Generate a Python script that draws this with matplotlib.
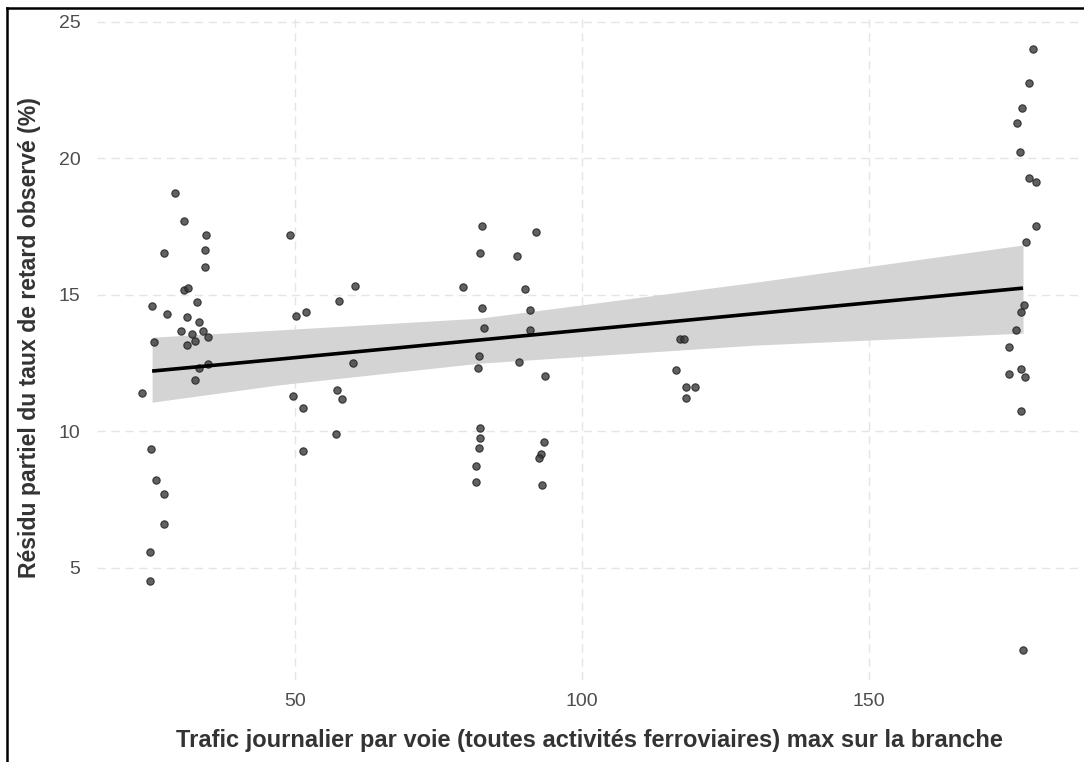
import matplotlib
matplotlib.use("Agg")
import matplotlib.pyplot as plt
from matplotlib.lines import Line2D

# ---- data ----
trafic = [29.1, 30.7, 34.5, 27.1, 34.3, 34.3, 30.7, 31.3, 32.9, 25.1, 27.7, 31.2, 33.2,
          30.1, 32.1, 34.0, 34.8, 32.6, 31.2, 25.5, 34.8, 33.2, 32.6, 23.3, 24.9, 25.8,
          27.1, 27.1, 24.7, 24.7,
          49.1, 60.4, 57.6, 51.9, 50.2, 60.1, 49.7, 57.3, 58.1, 51.3, 57.1, 51.3,
          82.6, 92.0, 82.3, 88.7, 79.3, 90.1, 82.6, 90.9, 82.9, 90.9, 82.1, 81.8, 89.0,
          93.6, 82.3, 82.3, 82.1, 93.4, 92.8, 92.5, 81.5, 81.5, 93.1,
          117.1, 117.7, 116.4, 118.1, 119.7, 118.1,
          178.5, 177.9, 176.6, 175.7, 176.3, 177.9, 179.1, 179.1, 177.4, 176.9, 176.5,
          175.5, 174.4, 174.4, 176.5, 177.1, 176.5, 176.8]
residu = [18.72, 17.70, 17.19, 16.52, 16.64, 16.02, 15.18, 15.24, 14.73, 14.57, 14.29, 14.18,
          13.99, 13.66, 13.55, 13.66, 13.44, 13.32, 13.16, 13.26, 12.45, 12.31, 11.87, 11.41,
          9.34, 8.22, 7.71, 6.58, 5.57, 4.50,
          17.19, 15.33, 14.78, 14.38, 14.22, 12.48, 11.29, 11.52, 11.18, 10.84, 9.89, 9.28,
          17.53, 17.31, 16.52, 16.41, 15.29, 15.22, 14.51, 14.44, 13.77, 13.71, 12.77, 12.31,
          12.54, 12.03, 10.13, 9.73, 9.39, 9.61, 9.17, 9.00, 8.72, 8.15, 8.04,
          13.37, 13.37, 12.25, 11.63, 11.63, 11.23,
          23.99, 22.76, 21.85, 21.29, 20.22, 19.29, 19.11, 17.53, 16.92, 14.63, 14.38,
          13.71, 13.09, 12.10, 12.27, 11.98, 10.74, 1.98]

# fitted line and confidence band, read at a few x positions
fit_x = [25.1, 47.4, 82.2, 130.0, 176.8]
fit_y = [12.20, 12.64, 13.34, 14.30, 15.24]
fit_lo = [11.06, 11.70, 12.49, 13.15, 13.59]
fit_hi = [13.44, 13.71, 14.14, 15.45, 16.82]

x_ticks = [50, 100, 150]
y_ticks = [5, 10, 15, 20, 25]
x_title = "Trafic journalier par voie (toutes activités ferroviaires) max sur la branche"
y_title = "Résidu partiel du taux de retard observé (%)"

# ---- figure ----
plt.rcParams['font.family'] = ['Liberation Sans', 'DejaVu Sans']
W, H = 1084, 762
fig = plt.figure(figsize=(W / 100, H / 100), dpi=100)
left, right, top, bottom = 97, 1081, 19.3, 680
ax = fig.add_axes([left / W, 1 - bottom / H, (right - left) / W, (bottom - top) / H])

ax.fill_between(fit_x, fit_lo, fit_hi, color="#d4d4d4", lw=0, zorder=2)
ax.scatter(trafic, residu, s=28, facecolor="#3a3a3a", edgecolor="#1a1a1a",
           linewidths=0.8, alpha=0.8, zorder=3)
ax.plot(fit_x, fit_y, color="black", lw=2.6, zorder=4, solid_capstyle="butt")

ax.set_xlim(15.5, 186.9)
ax.set_ylim(0.88, 25.09)
ax.set_xticks(x_ticks)
ax.set_yticks(y_ticks)
ax.grid(True, color="#e5e5e5", linestyle=(0, (6, 4)), lw=1.0, zorder=0)
ax.set_axisbelow(True)
for s in ax.spines.values():
    s.set_visible(False)
ax.tick_params(length=0, labelsize=14, labelcolor="#4d4d4d")
ax.tick_params(axis="x", pad=9)
ax.tick_params(axis="y", pad=12)
ax.set_xlabel(x_title, fontsize=17, fontweight="bold", color="#333333", labelpad=14)
ax.set_ylabel(y_title, fontsize=16.6, fontweight="bold", color="#333333")
ax.yaxis.set_label_coords((41 - left) / (right - left), (bottom - 338) / (bottom - top))

# outer black border (left and top visible)
fig.add_artist(Line2D([6.5 / W, 6.5 / W], [0, 1 - 7.5 / H], transform=fig.transFigure,
                      color="black", lw=1.8))
fig.add_artist(Line2D([6.5 / W, 1], [1 - 7.5 / H, 1 - 7.5 / H], transform=fig.transFigure,
                      color="black", lw=1.8))

fig.savefig("out.png", dpi=100)
